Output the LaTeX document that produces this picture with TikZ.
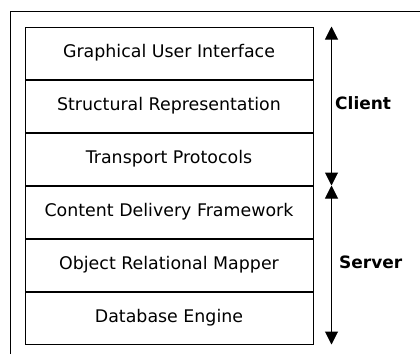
\documentclass[tikz,border=0pt]{standalone}
\usepackage{fontspec}
\setmainfont{DejaVu Sans}
\usepackage{tikz}
\usetikzlibrary{positioning,
                arrows.meta}

\begin{document}
\begin{tikzpicture}
[x=1pt,y=1pt,line cap=butt,
layer/.style={draw,line width=1pt,minimum width=288pt,minimum height=52pt,
inner sep=0pt,font=\fontsize{17.4}{20}\selectfont},
side label/.style={anchor=west,inner sep=0pt,font=\bfseries\fontsize{17}{20}\selectfont},
span arrow/.style={line width=1pt,{Triangle[length=13pt,width=13pt]}-{Triangle[length=13pt,width=13pt]}}]
\useasboundingbox (0,0) rectangle (420,-354);
% Frame
\draw[line width=1pt] (10,-354) -- (10,-11) -- (420,-11);
% The layers
\node[layer] (gui) at (169,-53) {Graphical User Interface};
\node[layer,below=0pt of gui] (struct) {Structural Representation};
\node[layer,below=0pt of struct] (transport) {Transport Protocols};
\node[layer,below=0pt of transport] (cdf) {Content Delivery Framework};
\node[layer,below=0pt of cdf] (orm) {Object Relational Mapper};
\node[layer,below=0pt of orm] (dbe) {Database Engine};
% Client / server spans
\coordinate[right=18pt of gui.north east] (client top);
\coordinate[right=18pt of transport.south east] (split);
\coordinate[right=18pt of dbe.south east] (server bottom);
\draw[span arrow] (client top) -- (split);
\draw[span arrow] (split) -- (server bottom);
\node[side label] (client) at (335,-103) {Client};
\node[side label] (server) at (339,-262) {Server};
\end{tikzpicture}
\end{document}
